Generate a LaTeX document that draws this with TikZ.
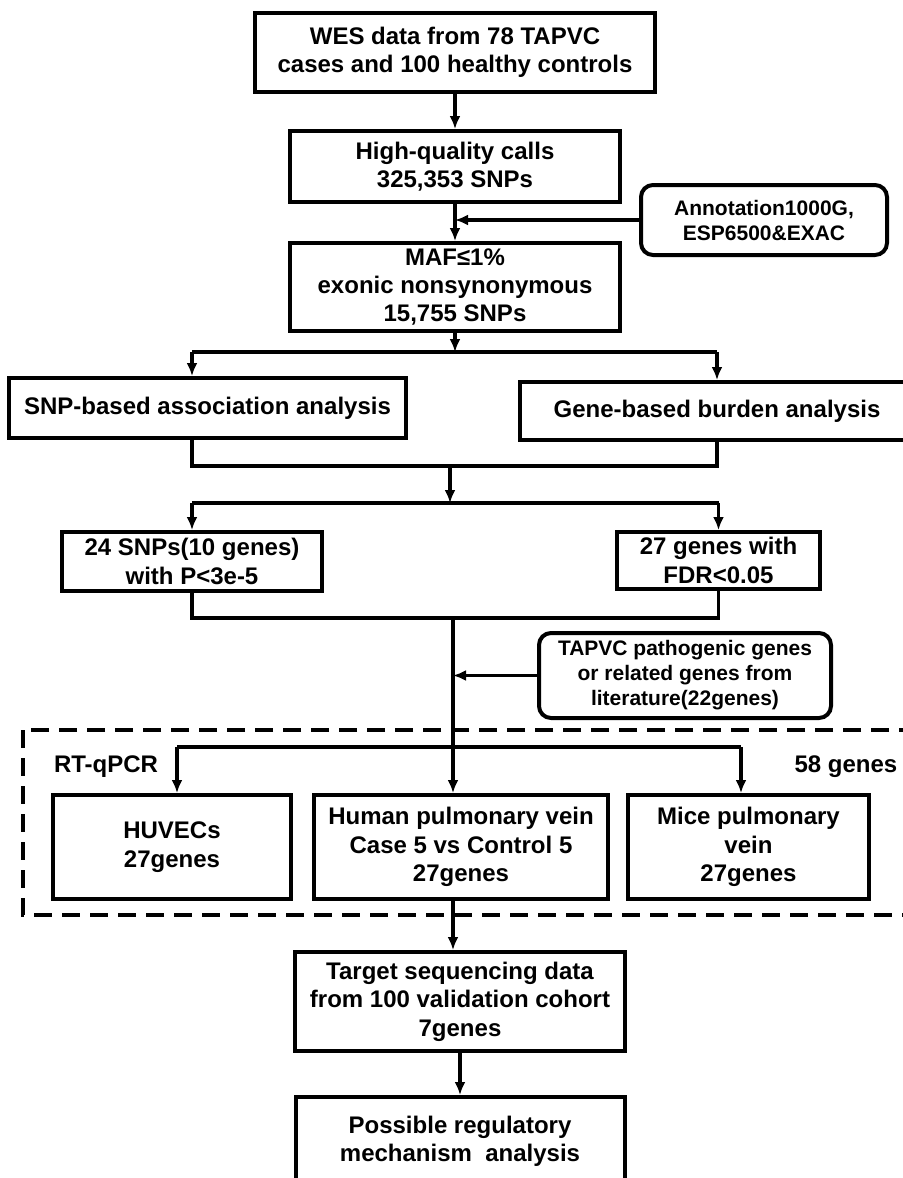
\documentclass[tikz,border=0pt]{standalone}
\usepackage{fontspec}
\setmainfont{Liberation Sans}
\usetikzlibrary{arrows.meta}

\begin{document}
\begin{tikzpicture}
    [x=0.5pt, y=-0.5pt,
     box/.style={draw, line width=2pt, align=center, inner sep=0pt,
       font=\bfseries\fontsize{12}{14.2}\selectfont},
     note/.style={box, rounded corners=6pt,
       font=\bfseries\fontsize{10.5}{12.5}\selectfont},
     lbl/.style={inner sep=0pt, font=\bfseries\fontsize{12}{14.5}\selectfont},
     link/.style={line width=1.7pt},
     group/.style={line width=1.8pt, dash pattern=on 9pt off 5pt},
     >={Latex[length=6.5pt, width=5.5pt]}]
    \useasboundingbox (0,0) rectangle (902,1178);

    % filtering steps
    \node[box, minimum width=200pt, minimum height=39.5pt] (wes) at (455,52.5)
      {WES data from 78 TAPVC\\cases and 100 healthy controls};
    \node[box, minimum width=165pt, minimum height=35.5pt] (hq) at (455,166.5)
      {High-quality calls\\325,353 SNPs};
    \node[note, minimum width=123pt, minimum height=35pt] (annot) at (764,220)
      {Annotation1000G,\\ESP6500\&EXAC};
    \node[box, minimum width=165pt, minimum height=44pt] (maf) at (455,287)
      {MAF≤1\%\\exonic nonsynonymous\\15,755 SNPs};

    % two analyses
    \node[box, minimum width=198.5pt, minimum height=30pt] (snp) at (207.5,408)
      {SNP-based association analysis};
    \node[box, minimum width=197pt, minimum height=29pt] (gene) at (717,411)
      {Gene-based burden analysis};
    \node[box, minimum width=130pt, minimum height=29.5pt] (snps24) at (192,561.5)
      {24 SNPs(10 genes)\\with P<3e-5};
    \node[box, minimum width=101.5pt, minimum height=28.5pt] (genes27) at (718.5,560.5)
      {27 genes with\\FDR<0.05};
    \node[note, minimum width=146pt, minimum height=42.5pt] (tapvc) at (685,675.5)
      {TAPVC pathogenic genes\\or related genes from\\literature(22genes)};

    % RT-qPCR group
    \draw[group] (23,730) rectangle (915,915);
    \node[lbl] (rt) at (106,767) {RT-qPCR};
    \node[lbl] (g58) at (846,767) {58 genes};
    \node[box, minimum width=119pt, minimum height=52pt] (huvec) at (172,847)
      {HUVECs\\27genes};
    \node[box, minimum width=147pt, minimum height=52pt] (human) at (461,847)
      {Human pulmonary vein\\Case 5 vs Control 5\\27genes};
    \node[box, minimum width=120.5pt, minimum height=52pt] (mice) at (748.5,847)
      {Mice pulmonary\\vein\\27genes};

    % validation
    \node[box, minimum width=165pt, minimum height=49.5pt] (target) at (460,1001.5)
      {Target sequencing data\\from 100 validation cohort\\7genes};
    \node[box, minimum width=164.5pt, minimum height=44pt] (final) at (460,1141)
      {Possible regulatory\\mechanism~ analysis};

    \coordinate (b1) at (455,352);
    \coordinate (b1l) at (192,352);
    \coordinate (b1r) at (717,352);
    \coordinate (m1) at (450,466);
    \coordinate (m1l) at (192,466);
    \coordinate (m1r) at (717,466);
    \coordinate (b2) at (450,503);
    \coordinate (b2l) at (192,503);
    \coordinate (b2r) at (718.5,503);
    \coordinate (m2) at (453,618);
    \coordinate (m2l) at (192,618);
    \coordinate (m2r) at (718.5,618);
    \coordinate (b3) at (453,747);
    \coordinate (b3l) at (177,747);
    \coordinate (b3r) at (741,747);

    \draw[link, ->] (wes) -- (hq);
    \draw[link, ->] (hq) -- (maf);
    \draw[link, ->] (annot.west) -- (annot.west -| hq);
    \draw[link, ->] (maf) -- (b1);
    \draw[link] (b1l) -- (b1r);
    \draw[link, ->] (b1l) -- (b1l |- snp.north);
    \draw[link, ->] (b1r) -- (b1r |- gene.north);

    \draw[link] (m1l |- snp.south) -- (m1l) -- (m1r) -- (m1r |- gene.south);
    \draw[link, ->] (m1) -- (b2);
    \draw[link] (b2l) -- (b2r);
    \draw[link, ->] (b2l) -- (snps24);
    \draw[link, ->] (b2r) -- (genes27);

    \draw[link] (snps24) -- (m2l) -- (m2r) -- (genes27);
    \draw[link] (m2) -- (b3);
    \draw[link, ->] (tapvc.west) -- (tapvc.west -| m2);
    \draw[link] (b3l) -- (b3r);
    \draw[link, ->] (b3l) -- (b3l |- huvec.north);
    \draw[link, ->] (b3) -- (b3 |- human.north);
    \draw[link, ->] (b3r) -- (b3r |- mice.north);
    \draw[link, ->] (b3 |- human.south) -- (b3 |- target.north);
    \draw[link, ->] (target) -- (final);
  \end{tikzpicture}
\end{document}
